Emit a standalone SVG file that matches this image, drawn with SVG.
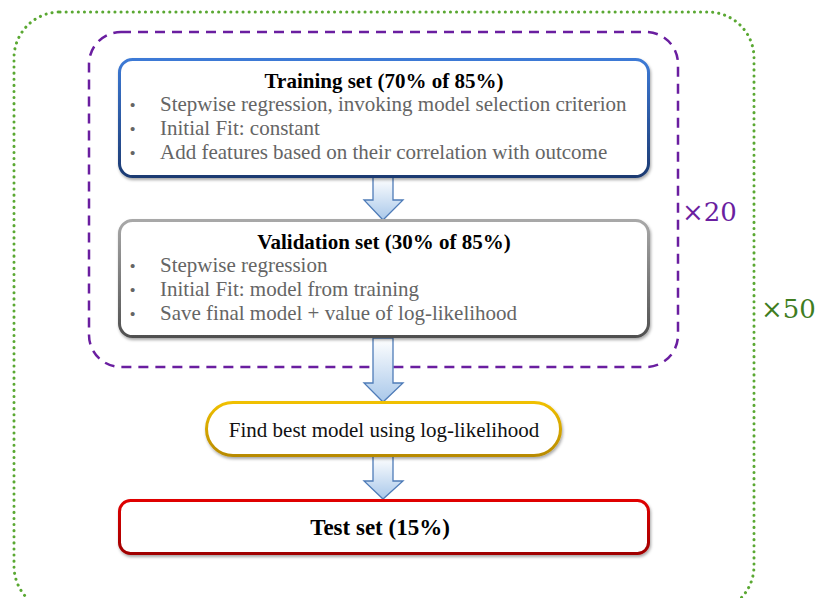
<svg xmlns="http://www.w3.org/2000/svg" width="818" height="598" viewBox="0 0 818 598">
<defs>
<linearGradient id="arrowFill" x1="0" y1="0" x2="0" y2="1">
<stop offset="0" stop-color="#ffffff"/>
<stop offset="1" stop-color="#a9c8ea"/>
</linearGradient>
<linearGradient id="blueStroke" x1="0" y1="0" x2="0" y2="1">
<stop offset="0" stop-color="#3d7ad6"/>
<stop offset="1" stop-color="#1c3a72"/>
</linearGradient>
<linearGradient id="grayStroke" x1="0" y1="0" x2="0" y2="1">
<stop offset="0" stop-color="#a8a8a8"/>
<stop offset="1" stop-color="#505050"/>
</linearGradient>
<linearGradient id="goldStroke" x1="0" y1="0" x2="0" y2="1">
<stop offset="0" stop-color="#f0c000"/>
<stop offset="1" stop-color="#b88a00"/>
</linearGradient>
<linearGradient id="redStroke" x1="0" y1="0" x2="0" y2="1">
<stop offset="0" stop-color="#e00000"/>
<stop offset="1" stop-color="#a00000"/>
</linearGradient>
<filter id="shadow" x="-5%" y="-10%" width="110%" height="125%">
<feDropShadow dx="1" dy="2" stdDeviation="1.5" flood-color="#000" flood-opacity="0.35"/>
</filter>
</defs>
<style>
.title{font-family:"Liberation Serif","DejaVu Serif",serif;font-weight:bold;font-size:21px;fill:#000;text-anchor:middle}
.item{font-family:"Liberation Serif","DejaVu Serif",serif;font-size:21px;fill:#656565}
.bullet{font-family:"Liberation Sans",sans-serif;font-size:15px;fill:#656565}
.plain{font-family:"Liberation Serif","DejaVu Serif",serif;font-size:21px;fill:#111;text-anchor:middle}
.box{fill:#fff;stroke-width:3;filter:url(#shadow)}
.arrow{fill:url(#arrowFill);stroke:#4f7cb8;stroke-width:1.3;stroke-linejoin:miter}
.mult{font-family:"DejaVu Serif","Liberation Serif",serif;font-size:26px}
</style>

<g id="loop50">
<rect x="14" y="12" width="740" height="600" rx="46" ry="46" fill="none" stroke="#5aa832" stroke-width="3" stroke-dasharray="0.1 6" stroke-linecap="round"/>
<text class="mult" x="761" y="318" fill="#3f7d1f">×50</text>
</g>

<g id="loop20">
<rect x="89" y="32" width="589" height="335" rx="32" ry="32" fill="none" stroke="#6a1ea0" stroke-width="2.5" stroke-dasharray="10 7"/>
<text class="mult" x="682" y="221" fill="#6a1ea0">×20</text>
</g>

<g id="connectors">
<path class="arrow" d="M373,177 H393 V200 H403 L383,220 L364,200 H373 Z"/>
<path class="arrow" d="M373,338 H393 V383 H403 L383,402 L364,383 H373 Z"/>
<path class="arrow" d="M373,456 H393 V481 H403 L383,499 L364,481 H373 Z"/>
</g>

<g id="training">
<rect class="box" x="119.5" y="59.5" width="529" height="117" rx="13" ry="13" stroke="url(#blueStroke)"/>
<text class="title" x="384" y="88">Training set (70% of 85%)</text>
<text class="bullet" x="130" y="110">•</text>
<text class="item" x="160" y="111">Stepwise regression, invoking model selection criterion</text>
<text class="bullet" x="130" y="134">•</text>
<text class="item" x="160" y="135">Initial Fit: constant</text>
<text class="bullet" x="130" y="158">•</text>
<text class="item" x="160" y="159">Add features based on their correlation with outcome</text>
</g>

<g id="validation">
<rect class="box" x="119.5" y="220.5" width="529" height="116" rx="13" ry="13" stroke="url(#grayStroke)"/>
<text class="title" x="384" y="249">Validation set (30% of 85%)</text>
<text class="bullet" x="130" y="271">•</text>
<text class="item" x="160" y="272">Stepwise regression</text>
<text class="bullet" x="130" y="295">•</text>
<text class="item" x="160" y="296">Initial Fit: model from training</text>
<text class="bullet" x="130" y="319">•</text>
<text class="item" x="160" y="320">Save final model + value of log-likelihood</text>
</g>

<g id="findbest">
<rect class="box" x="206.5" y="402.5" width="354" height="53" rx="26.5" ry="26.5" stroke="url(#goldStroke)"/>
<text class="plain" x="384" y="437">Find best model using log-likelihood</text>
</g>

<g id="test">
<rect class="box" x="119.5" y="500.5" width="529" height="53" rx="11" ry="11" stroke="url(#redStroke)"/>
<text class="title" x="380" y="535" style="font-size:23px">Test set (15%)</text>
</g>
</svg>
